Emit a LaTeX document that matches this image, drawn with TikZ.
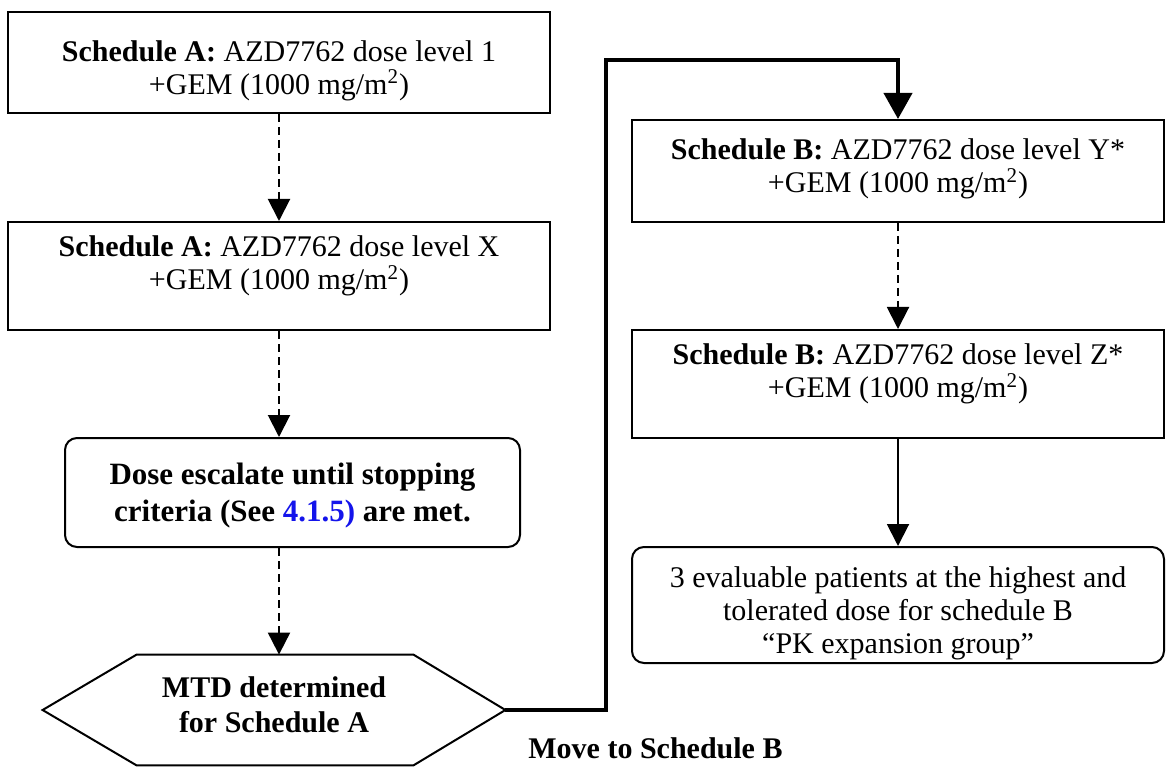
\documentclass[tikz,border=0pt]{standalone}
\usepackage{fontspec}
\setmainfont{Liberation Serif}
\usepackage{xcolor}
\usetikzlibrary{arrows.meta}
\definecolor{reflink}{RGB}{20,20,235}

\begin{document}
\begin{tikzpicture}[x=0.5pt,y=-0.5pt,
    font=\fontsize{15}{16.5}\selectfont,
    box/.style={draw,line width=1pt,minimum width=266pt},
    rbox/.style={box,rounded corners=6pt},
    txt/.style={align=center,inner sep=0pt},
    dflow/.style={line width=1pt,dashed,dash pattern=on 4pt off 2.5pt,-{Triangle[length=11pt,width=11pt]}},
    sflow/.style={line width=1pt,-{Triangle[length=11pt,width=11pt]}},
    bigflow/.style={line width=2pt,-{Triangle[length=13pt,width=14pt]}}]
  \useasboundingbox (0,0) rectangle (1167,770);
  % left column: schedule A
  \node[box,minimum width=271pt,minimum height=50.5pt,
    label={[txt,yshift=-4pt]center:{\textbf{Schedule A:} AZD7762 dose level 1\\+GEM (1000 mg/m\textsuperscript{2})}}]
    (a1) at (279,62.5) {};
  \node[box,minimum width=271pt,minimum height=54pt,
    label={[txt,yshift=5pt]center:{\textbf{Schedule A:} AZD7762 dose level X\\+GEM (1000 mg/m\textsuperscript{2})}}]
    (a2) at (279,276) {};
  \node[rbox,minimum width=227.5pt,minimum height=54.5pt,
    label={[txt,yshift=-1.5pt,font=\fontsize{15.5}{18.5}\selectfont\bfseries]center:{Dose escalate until stopping\\criteria (See \textcolor{reflink}{4.1.5)} are met.}}]
    (esc) at (292.5,492.5) {};
  \node[minimum width=231pt,minimum height=55pt,
    label={[txt,yshift=2.5pt,font=\fontsize{15}{17.5}\selectfont\bfseries]center:{MTD determined\\for Schedule A}}]
    (mtd) at (274,710) {};
  \draw[line width=1pt] (mtd.west) -- ([xshift=47pt]mtd.north west) -- ([xshift=-46pt]mtd.north east)
    -- (mtd.east) -- ([xshift=-46pt]mtd.south east) -- ([xshift=47pt]mtd.south west) -- cycle;
  % right column: schedule B
  \node[box,minimum height=51pt,
    label={[txt,yshift=1pt]center:{\textbf{Schedule B:} AZD7762 dose level Y*\\+GEM (1000 mg/m\textsuperscript{2})}}]
    (b1) at (898,171) {};
  \node[box,minimum height=54pt,
    label={[txt,yshift=5pt]center:{\textbf{Schedule B:} AZD7762 dose level Z*\\+GEM (1000 mg/m\textsuperscript{2})}}]
    (b2) at (898,384) {};
  \node[rbox,minimum height=58pt,
    label={[txt,yshift=-4pt]center:{3 evaluable patients at the highest and\\tolerated dose for schedule B\\``PK expansion group''}}]
    (pk) at (898,605) {};
  % connectors
  \draw[dflow] (a1.south) -- (a2.north);
  \draw[dflow] (a2.south) -- (a2.south |- esc.north);
  \draw[dflow] (a2.south |- esc.south) -- (a2.south |- mtd.north);
  \draw[dflow] (b1.south) -- (b2.north);
  \draw[sflow] (b2.south) -- (pk.north);
  \coordinate (turn) at (606,60);
  \draw[bigflow] (mtd.east) -| (turn) -| (b1.north);
  \node[anchor=west,inner sep=0pt,font=\fontsize{15}{16.5}\selectfont\bfseries] (move) at (528,748) {Move to Schedule B};
\end{tikzpicture}
\end{document}
